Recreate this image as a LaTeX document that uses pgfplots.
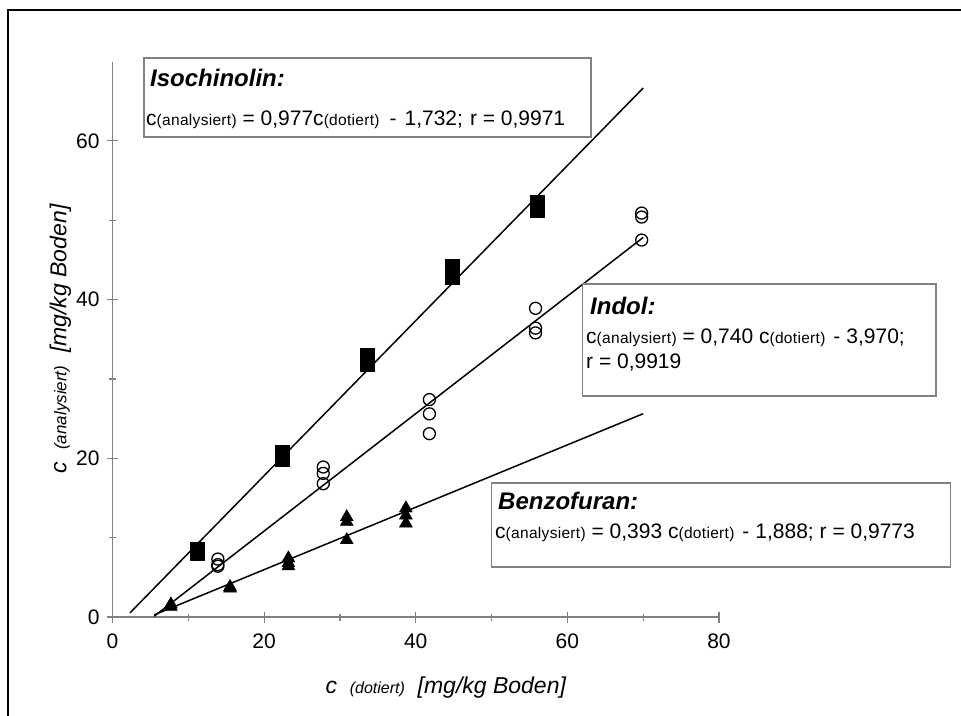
\documentclass[border=0pt]{standalone}
\usepackage{pgfplots}
\pgfplotsset{compat=1.18}
\usepackage{fontspec}
\setmainfont{Liberation Sans}
\definecolor{axgray}{RGB}{128,128,128}
\newcommand{\sub}[1]{{\fontsize{15.5}{18}\selectfont\addfontfeature{LetterSpace=2}(#1)}}
\newcommand{\eqf}{\fontsize{21}{25}\selectfont}
\newcommand{\ttf}{\fontsize{24}{28}\selectfont\bfseries\itshape}
\begin{document}
\begin{tikzpicture}
\path[use as bounding box] (0pt,0pt) rectangle (961pt,-715pt);
\fill[white] (0pt,0pt) rectangle (961pt,-715pt);
\draw[black, line width=2pt] (8pt,-716pt) -- (8pt,-10pt) -- (962pt,-10pt);
\begin{axis}[
  at={(112.5pt,-617pt)}, anchor=south west,
  scale only axis, width=606.5pt, height=555.5pt,
  xmin=0, xmax=80, ymin=0, ymax=70,
  axis x line*=bottom, axis y line*=left,
  axis line style={axgray, line width=1.2pt, -},
  xtick={0,20,40,60,80}, ytick={0,20,40,60},
  minor xtick={10,30,50,70}, minor ytick={10,30,50},
  tick style={axgray, line width=1.2pt},
  tick align=center, major tick length=11pt, minor tick length=7pt,
  tick label style={font=\fontsize{21}{25}\selectfont, black},
  xticklabel style={yshift=-8pt},
  yticklabel style={xshift=-4pt},
  /pgf/number format/assume math mode=true,
  xlabel={\itshape c\ \ {\fontsize{16}{19}\selectfont (dotiert)}\ \ [mg/kg Boden]},
  ylabel={\itshape c\ \ {\fontsize{17}{20}\selectfont (analysiert)}\ \ [mg/kg Boden]},
  label style={font=\fontsize{23}{27}\selectfont},
  xlabel style={at={(axis description cs:0.5,0)}, anchor=center, yshift=-71pt, xshift=30pt},
  ylabel style={at={(axis description cs:0,0.5)}, anchor=center, yshift=52pt},
  clip=false,
]
% regression lines
\addplot[black, line width=1.5pt, no marks] coordinates {(2.3,0.515) (70,66.66)};
\addplot[black, line width=1.5pt, no marks] coordinates {(5.5,0.10) (70,47.83)};
\addplot[black, line width=1.5pt, no marks] coordinates {(5.5,0.27) (70,25.62)};
% Isochinolin
\addplot[only marks, mark=square*, mark size=7pt, black] coordinates {
 (11.2,8.1) (11.2,8.3) (11.2,8.5)
 (22.4,19.9) (22.4,20.3) (22.4,20.8)
 (33.6,31.9) (33.6,32.4) (33.6,33.0)
 (44.8,42.8) (44.8,43.5) (44.8,44.2)
 (56.0,51.3) (56.0,51.8) (56.0,52.3)};
% Indol
\addplot[only marks, mark=o, mark size=6pt, black, line width=1.3pt] coordinates {
 (13.9,7.3) (13.9,6.6) (13.9,6.4)
 (27.8,18.9) (27.8,18.1) (27.8,16.8)
 (41.8,27.4) (41.8,25.6) (41.8,23.1)
 (55.8,38.9) (55.8,36.4) (55.8,35.8)
 (69.8,50.9) (69.8,50.4) (69.8,47.5)};
% Benzofuran
\addplot[only marks, mark=triangle*, mark size=7.5pt, black] coordinates {
 (7.7,1.3) (7.7,1.6)
 (15.5,3.6) (15.5,3.8)
 (23.2,7.4) (23.2,6.8) (23.2,6.4)
 (30.9,12.6) (30.9,12.0) (30.9,9.7)
 (38.7,13.7) (38.7,12.8) (38.7,11.8)};
\end{axis}
% text boxes
\filldraw[fill=white, draw=axgray, line width=1.2pt] (144pt,-58pt) rectangle (591pt,-137pt);
\node[anchor=base west, inner sep=0pt] at (150pt,-86pt) {\ttf Isochinolin:};
\node[anchor=base west, inner sep=0pt] at (146pt,-125pt) {\eqf c\sub{analysiert} = 0,977c\sub{dotiert}\hspace{10pt}-\hspace{8pt}1,732;\hspace{7pt}r = 0,9971};
\filldraw[fill=white, draw=axgray, line width=1.2pt] (582.7pt,-284pt) rectangle (936pt,-396pt);
\node[anchor=base west, inner sep=0pt] at (590pt,-314pt) {\ttf Indol:};
\node[anchor=base west, inner sep=0pt] at (586pt,-343pt) {\eqf c\sub{analysiert} = 0,740 c\sub{dotiert}\hspace{8pt}-\hspace{6pt}3,970;};
\node[anchor=base west, inner sep=0pt] at (586pt,-368pt) {\eqf r = 0,9919};
\filldraw[fill=white, draw=axgray, line width=1.2pt] (491.7pt,-483pt) rectangle (950.7pt,-567pt);
\node[anchor=base west, inner sep=0pt] at (498pt,-509pt) {\ttf Benzofuran:};
\node[anchor=base west, inner sep=0pt] at (495pt,-538pt) {\eqf c\sub{analysiert} = 0,393 c\sub{dotiert}\hspace{8pt}-\hspace{6pt}1,888; r = 0,9773};
\end{tikzpicture}
\end{document}
